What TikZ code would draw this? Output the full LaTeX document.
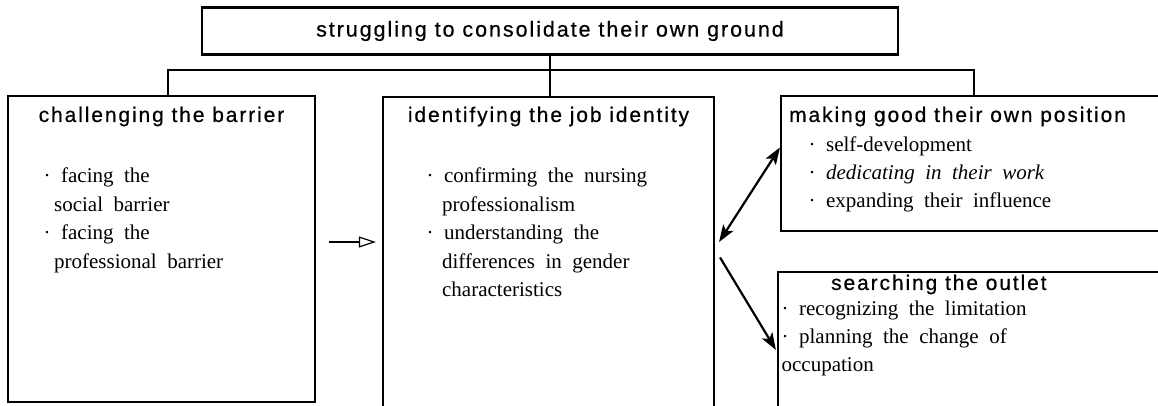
\documentclass[tikz,border=0pt]{standalone}
\usepackage{fontspec}
\setmainfont{Liberation Serif}[WordSpace=2]
\newfontfamily\headfont{Liberation Sans}[LetterSpace=9, FakeBold=0.5]
\usetikzlibrary{arrows.meta,calc}

\begin{document}
\begin{tikzpicture}[
        x=1pt, y=-1pt,
        box/.style={draw, rectangle, line width=2.1pt, inner sep=0pt},
        head/.style={font=\headfont\fontsize{21pt}{25pt}\selectfont, inner sep=0pt},
        body/.style={font=\fontsize{21pt}{28.5pt}\selectfont, align=left, inner sep=0pt},
        link/.style={line width=2pt},
        arrow/.style={line width=2.2pt, >={Stealth[length=17pt, width=12pt, inset=4pt]}},
        hollow/.style={line width=2.6pt, -{Triangle[open, length=17pt, width=11pt, line width=1.2pt]}}
    ]
    \useasboundingbox (0,0) rectangle (1158,405);
    \clip (0,0) rectangle (1158,405);

    % boxes
    \node[box, minimum width=696pt, minimum height=47pt, head, font=\headfont\fontsize{21.5pt}{25pt}\selectfont] (ground) at (550,31) {struggling to consolidate their own ground};
    \node[box, minimum width=307pt, minimum height=306pt] (barrier) at (161.5,249) {};
    \node[box, minimum width=331pt, minimum height=343pt] (identity) at (548.5,268.5) {};
    \node[box, minimum width=400pt, minimum height=135pt] (position) at (981,163.5) {};
    \node[box, minimum width=402pt, minimum height=168pt] (outlet) at (979,356) {};

    % titles
    \node[head, anchor=base] (barrierhead) at ([yshift=-27pt]barrier.north) {challenging the barrier};
    \node[head, anchor=base] (identityhead) at ([yshift=-26pt]identity.north) {identifying the job identity};
    \node[head, anchor=base west] (positionhead) at ([xshift=9pt, yshift=-27pt]position.north west) {making good their own position};
    \node[head, anchor=base west] (outlethead) at ([xshift=54pt, yshift=-19pt]outlet.north west) {searching the outlet};

    % lists (base = last line)
    \node[body, anchor=base west] (barrierlist) at ([xshift=36.5pt, yshift=-173.5pt]barrier.north west)
        {· facing the\\\hspace*{10.5pt}social barrier\\· facing the\\\hspace*{10.5pt}professional barrier};
    \node[body, anchor=base west] (identitylist) at ([xshift=44.5pt, yshift=-201pt]identity.north west)
        {· confirming the nursing\\\hspace*{15.5pt}professionalism\\· understanding the\\\hspace*{15.5pt}differences in gender\\\hspace*{15.5pt}characteristics};
    \node[body, anchor=base west, font=\fontsize{21pt}{28pt}\selectfont] (positionlist) at ([xshift=28.5pt, yshift=-113pt]position.north west)
        {· self-development\\· \textit{dedicating in their work}\\· expanding their influence};
    \node[body, anchor=base west, font=\fontsize{21pt}{28pt}\selectfont] (outletlist) at ([xshift=4.5pt, yshift=-101pt]outlet.north west)
        {· recognizing the limitation\\· planning the change of\\occupation};

    % tree
    \coordinate (bus) at (550,70);
    \coordinate (mid) at (0,242);
    \draw[link] (ground.south) -- (ground.south |- identity.north);
    \draw[link] ([xshift=6.5pt]barrier.north) |- (bus) -| ([xshift=-7pt]position.north);

    % arrows
    \draw[hollow, shorten <=13pt, shorten >=6pt] (barrier.east |- mid) -- (identity.west |- mid);
    \draw[arrow, <->] ($(identity.east |- mid)+(4,0)$) -- ($(position.west)+(0,-16)$);
    \draw[arrow, ->] ($(identity.east)+(5,-11)$) -- ($(outlet.west)+(-1,-6)$);
\end{tikzpicture}
\end{document}
